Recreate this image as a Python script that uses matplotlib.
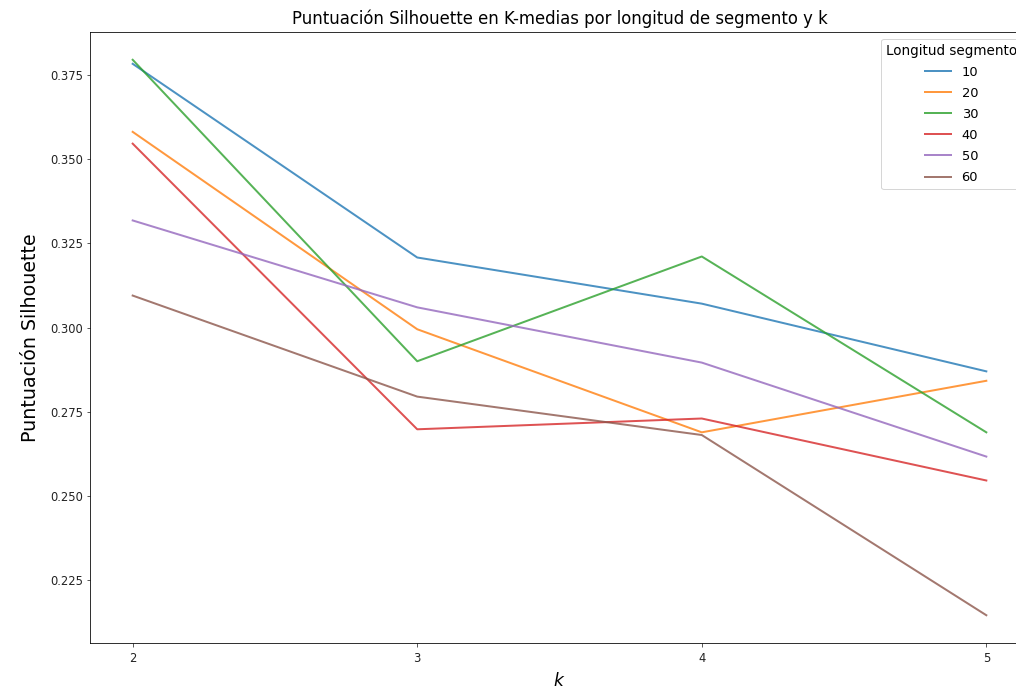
import matplotlib
matplotlib.use("Agg")
import matplotlib.pyplot as plt

# k values and silhouette score per segment length
k_values = [2, 3, 4, 5]
segment_lengths = [10, 20, 30, 40, 50, 60]
scores_10 = [0.3783, 0.3208, 0.3071, 0.2870]
scores_20 = [0.3581, 0.2995, 0.2689, 0.2842]
scores_30 = [0.3795, 0.2900, 0.3211, 0.2689]
scores_40 = [0.3546, 0.2698, 0.2730, 0.2546]
scores_50 = [0.3318, 0.3060, 0.2896, 0.2617]
scores_60 = [0.3095, 0.2795, 0.2681, 0.2146]
all_scores = [scores_10, scores_20, scores_30, scores_40, scores_50, scores_60]

fig = plt.figure(figsize=(1016 / 72, 692 / 72), dpi=72)
# axes runs a little past the right edge, as in the cropped reference
ax = fig.add_axes([90 / 1016, 49 / 692, 939 / 1016, 611 / 692])

for length, scores in zip(segment_lengths, all_scores):
    ax.plot(k_values, scores, lw=2, alpha=0.8, label=str(length))

ax.set_xticks(k_values)
ax.set_yticks([0.225, 0.25, 0.275, 0.3, 0.325, 0.35, 0.375])
ax.tick_params(labelsize=11.5, colors="#333333", labelcolor="#222222")
ax.tick_params(axis="x", pad=6)
ax.set_title("Puntuación Silhouette en K-medias por longitud de segmento y k",
             fontsize=16.5, pad=8)
ax.set_xlabel("$k$", fontsize=17, labelpad=6)
ax.set_ylabel("Puntuación Silhouette", fontsize=19, labelpad=10)
ax.legend(title="Longitud segmento", loc="upper right", fontsize=13,
          title_fontsize=13.5, labelspacing=0.62)

fig.savefig("out.png", dpi=72)
